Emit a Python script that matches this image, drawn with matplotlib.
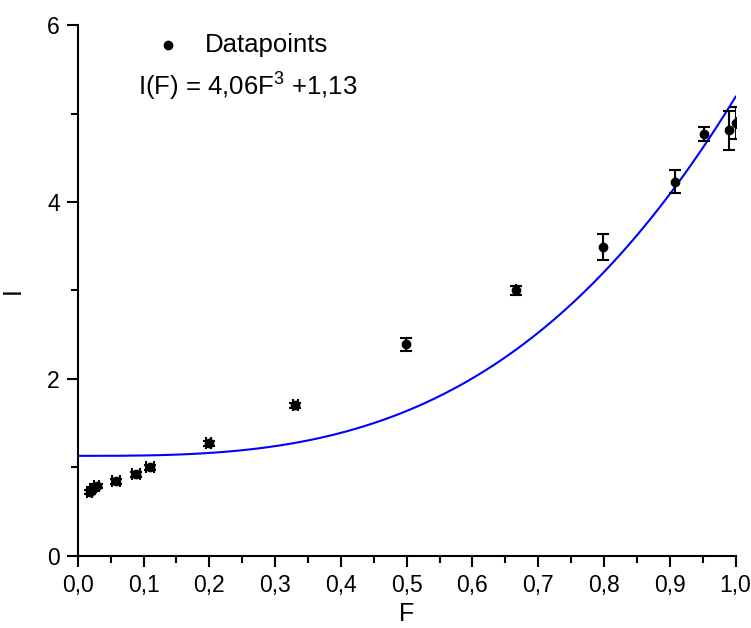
import numpy as np
import matplotlib
matplotlib.use('Agg')
import matplotlib.pyplot as plt
from matplotlib.ticker import MultipleLocator, FuncFormatter

plt.rcParams['font.family'] = ['Liberation Sans', 'DejaVu Sans']
plt.rcParams['mathtext.fontset'] = 'custom'
plt.rcParams['mathtext.rm'] = 'Liberation Sans'

# measured data points
F = [0.018, 0.023, 0.029, 0.058, 0.089, 0.110, 0.199, 0.331, 0.499, 0.666, 0.799, 0.908, 0.952, 0.990, 1.000]
I = [0.72, 0.76, 0.79, 0.84, 0.92, 1.00, 1.27, 1.70, 2.39, 3.00, 3.49, 4.23, 4.77, 4.81, 4.89]
I_err = [0.02, 0.02, 0.02, 0.03, 0.03, 0.03, 0.03, 0.03, 0.07, 0.05, 0.15, 0.13, 0.08, 0.22, 0.18]
F_err = [0.004, 0.004, 0.004, 0.006, 0.006, 0.006, 0.004, 0.004, 0, 0, 0, 0, 0, 0, 0]

# fit parameters
a, b = 4.06, 1.13
F_fit = np.linspace(0, 1.0, 200)
I_fit = a * F_fit**3 + b

fig = plt.figure(figsize=(7.51, 6.28), dpi=100)
ax = fig.add_axes([0.1035, 0.115, 0.876, 0.845])

ax.plot(F_fit, I_fit, color='#0000ff', lw=1.5)
ax.errorbar(F, I, yerr=I_err, xerr=F_err, fmt='o', color='black', ms=6,
            capsize=4, elinewidth=1.5, capthick=1.5)

ax.set_xlim(0, 1.0)
ax.set_ylim(0, 6)
ax.xaxis.set_major_locator(MultipleLocator(0.1))
ax.xaxis.set_minor_locator(MultipleLocator(0.05))
ax.yaxis.set_major_locator(MultipleLocator(2))
ax.yaxis.set_minor_locator(MultipleLocator(1))
ax.xaxis.set_major_formatter(FuncFormatter(lambda v, p: f'{v:.1f}'.replace('.', ',')))
ax.yaxis.set_major_formatter(FuncFormatter(lambda v, p: f'{v:.0f}'))

for s in ['top', 'right']:
    ax.spines[s].set_visible(False)
for s in ['left', 'bottom']:
    ax.spines[s].set_linewidth(1.5)
ax.tick_params(which='major', length=8, width=1.5, labelsize=16.5, direction='out', pad=5)
ax.tick_params(which='minor', length=5, width=1.5, direction='out')

ax.set_xlabel('F', fontsize=18, labelpad=4)
ax.set_ylabel('I', fontsize=18, labelpad=16)

# legend-style annotations
ax.plot([0.137], [5.77], 'o', color='black', ms=6, clip_on=False)
ax.text(0.193, 5.77, 'Datapoints', fontsize=18.5, va='center', ha='left')
ax.text(0.092, 5.32, r'I(F) = 4,06F$^{\mathrm{3}}$ +1,13', fontsize=18.5, va='center', ha='left')

plt.savefig('out.png', dpi=100)
